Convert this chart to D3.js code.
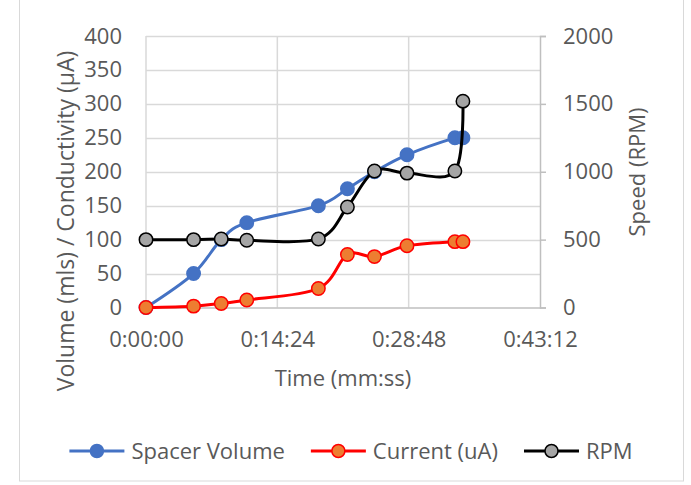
<!DOCTYPE html>
<html>
<head>
<meta charset="utf-8">
<script src="https://cdn.jsdelivr.net/npm/d3@7"></script>
<style>
  body { margin: 0; background: #fff; }
  text { font-family: "Open Sans", sans-serif; fill: #595959; }
</style>
</head>
<body>
<svg id="chart" width="691" height="485"></svg>
<script>
// elapsed time of each reading, in seconds
var times = [0, 313, 495, 663, 1134, 1325, 1503, 1717, 2032, 2085];
var spacerVolume = [0, 50, 100, 125, 150, 175, 200, 225, 250, 250];
var currentUA = [0, 2, 6, 11, 28, 78, 75, 91, 97, 97];
var rpm = [500, 500, 505, 495, 505, 740, 1005, 990, 1005, 1520];

var xTicks = [0, 864, 1728, 2592];
var leftTicks = [0, 50, 100, 150, 200, 250, 300, 350, 400];
var rightTicks = [0, 500, 1000, 1500, 2000];

var margin = { top: 36, right: 151, bottom: 177.5, left: 146 },
    width = 691 - margin.left - margin.right,
    height = 485 - margin.top - margin.bottom;

var fontSize = "22px";

var svg = d3.select("#chart");

// outer chart frame
svg.append("rect")
    .attr("x", 19.5).attr("y", -1)
    .attr("width", 664).attr("height", 482)
    .attr("fill", "none")
    .attr("stroke", "#d9d9d9");

var g = svg.append("g")
    .attr("transform", "translate(" + margin.left + "," + margin.top + ")");

var x = d3.scaleLinear().domain([0, 2592]).range([0, width]);
var yLeft = d3.scaleLinear().domain([0, 400]).range([height, 0]);
var yRight = d3.scaleLinear().domain([0, 2000]).range([height, 0]);

function fmtTime(s) {
    var h = Math.floor(s / 3600), m = Math.floor((s % 3600) / 60), sec = s % 60;
    return h + ":" + d3.format("02")(m) + ":" + d3.format("02")(sec);
}

// gridlines
g.append("g").selectAll("line")
    .data(leftTicks.slice(1))
    .enter().append("line")
    .attr("x1", 0).attr("x2", width)
    .attr("y1", function (d) { return Math.round(yLeft(d)) + 0.5; })
    .attr("y2", function (d) { return Math.round(yLeft(d)) + 0.5; })
    .attr("stroke", "#d9d9d9").attr("stroke-width", 1.5);

g.append("g").selectAll("line")
    .data(xTicks.slice(0, -1))
    .enter().append("line")
    .attr("x1", function (d) { return x(d); })
    .attr("x2", function (d) { return x(d); })
    .attr("y1", 0).attr("y2", height)
    .attr("stroke", "#d9d9d9").attr("stroke-width", 1.5);

// bottom axis
var xAxis = d3.axisBottom(x).tickValues(xTicks).tickSize(0).tickPadding(24).tickFormat(fmtTime);
var gx = g.append("g").attr("transform", "translate(0," + height + ")").call(xAxis);
gx.select(".domain").attr("stroke", "#bfbfbf").attr("stroke-width", 1.5);
gx.selectAll("text").style("font-size", fontSize).attr("fill", "#595959");

// left axis (labels only)
var yAxisL = d3.axisLeft(yLeft).tickValues(leftTicks).tickSize(0).tickPadding(24);
var gl = g.append("g").call(yAxisL);
gl.select(".domain").remove();
gl.selectAll("text").style("font-size", fontSize).attr("fill", "#595959");

// right axis
var yAxisR = d3.axisRight(yRight).tickValues(rightTicks).tickSize(6).tickSizeOuter(6)
    .tickPadding(17).tickFormat(d3.format("d"));
var gr = g.append("g").attr("transform", "translate(" + width + ",0)").call(yAxisR);
gr.select(".domain").attr("stroke", "#bfbfbf").attr("stroke-width", 1.5);
gr.selectAll(".tick line").attr("stroke", "#bfbfbf").attr("stroke-width", 1.5);
gr.selectAll("text").style("font-size", fontSize).attr("fill", "#595959");

// axis titles
svg.append("text")
    .attr("text-anchor", "middle")
    .attr("transform", "translate(74,221) rotate(-90)")
    .style("font-size", "23px")
    .text("Volume (mls) / Conductivity (µA)");

svg.append("text")
    .attr("text-anchor", "middle")
    .attr("transform", "translate(645,172) rotate(-90)")
    .style("font-size", fontSize)
    .text("Speed (RPM)");

svg.append("text")
    .attr("text-anchor", "middle")
    .attr("x", margin.left + width / 2)
    .attr("y", 386)
    .style("font-size", fontSize)
    .text("Time (mm:ss)");

// series
var series = [
    { name: "Spacer Volume", values: spacerVolume, y: yLeft, line: "#4472c4", fill: "#4472c4", stroke: "#4472c4" },
    { name: "Current (uA)", values: currentUA, y: yLeft, line: "#ff0000", fill: "#ed7d31", stroke: "#ff0000" },
    { name: "RPM", values: rpm, y: yRight, line: "#000000", fill: "#a5a5a5", stroke: "#000000" }
];

series.forEach(function (s) {
    var pts = times.map(function (t, i) { return [x(t), s.y(s.values[i])]; });
    g.append("path")
        .attr("d", d3.line().curve(d3.curveCatmullRom.alpha(0))(pts))
        .attr("fill", "none")
        .attr("stroke", s.line)
        .attr("stroke-width", 3);
    g.append("g").selectAll("circle")
        .data(pts)
        .enter().append("circle")
        .attr("cx", function (d) { return d[0]; })
        .attr("cy", function (d) { return d[1]; })
        .attr("r", 6.7)
        .attr("fill", s.fill)
        .attr("stroke", s.stroke)
        .attr("stroke-width", 1.5);
});

// legend
var legendY = 451;
var legend = svg.append("g");
var lx = 0;
series.forEach(function (s) {
    var item = legend.append("g").attr("transform", "translate(" + lx + ",0)");
    item.append("line")
        .attr("x1", 0).attr("x2", 55).attr("y1", legendY).attr("y2", legendY)
        .attr("stroke", s.line).attr("stroke-width", 3);
    item.append("circle")
        .attr("cx", 27.5).attr("cy", legendY).attr("r", 6.5)
        .attr("fill", s.fill).attr("stroke", s.stroke).attr("stroke-width", 1.5);
    var t = item.append("text")
        .attr("x", 62).attr("y", legendY + 7.5)
        .style("font-size", fontSize)
        .text(s.name);
    lx += 62 + t.node().getComputedTextLength() + 26;
});
lx -= 26;
legend.attr("transform", "translate(" + (351 - lx / 2) + ",0)");
</script>
</body>
</html>
